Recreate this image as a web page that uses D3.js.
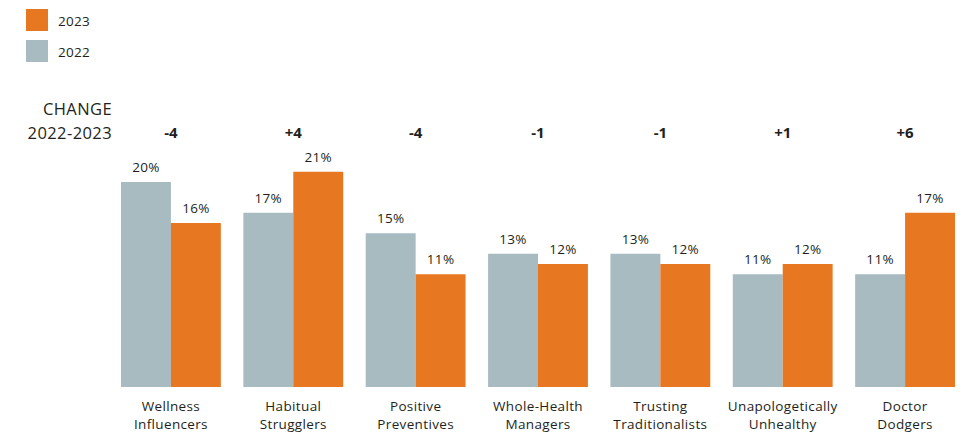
<!DOCTYPE html>
<html>
<head>
<meta charset="utf-8">
<script src="https://cdn.jsdelivr.net/npm/d3@7"></script>
<style>
  html, body { margin: 0; padding: 0; background: #fff; }
  svg { display: block; font-family: "Open Sans", "Lato", sans-serif; }
</style>
</head>
<body>
<svg id="chart" width="973" height="432"></svg>
<script>
// Segment shares by year
const categories = [
  ["Wellness", "Influencers"],
  ["Habitual", "Strugglers"],
  ["Positive", "Preventives"],
  ["Whole-Health", "Managers"],
  ["Trusting", "Traditionalists"],
  ["Unapologetically", "Unhealthy"],
  ["Doctor", "Dodgers"]
];
const values2022 = [20, 17, 15, 13, 13, 11, 11];
const values2023 = [16, 21, 11, 12, 12, 12, 17];
const changeLabels = ["-4", "+4", "-4", "-1", "-1", "+1", "+6"];
const seriesNames = ["2023", "2022"];

const colors = { "2022": "#a7bbc1", "2023": "#e87722" };
const textColor = "#231f20";

const svg = d3.select("#chart");

const x = d3.scaleBand()
  .domain(d3.range(categories.length))
  .range([121, 955])
  .paddingInner(0.184)
  .paddingOuter(0);

const xSeries = d3.scaleBand()
  .domain(["2022", "2023"])
  .range([0, x.bandwidth()]);

const y = d3.scaleLinear()
  .domain([0, 20])
  .range([387, 182]);

const rows = categories.map((c, i) => ({
  i,
  lines: c,
  change: changeLabels[i],
  bars: [
    { key: "2022", value: values2022[i] },
    { key: "2023", value: values2023[i] }
  ]
}));

// Legend
const legend = svg.append("g");
seriesNames.forEach((name, k) => {
  const g = legend.append("g").attr("transform", `translate(26, ${9 + k * 31})`);
  g.append("rect").attr("width", 22).attr("height", 22).attr("fill", colors[name]);
  g.append("text")
    .attr("x", 32).attr("y", 16.5)
    .attr("font-size", 13.5)
    .attr("letter-spacing", 0.3)
    .attr("fill", textColor)
    .text(name);
});

// Change header
svg.append("text")
  .attr("x", 112).attr("y", 115)
  .attr("text-anchor", "end")
  .attr("font-size", 16.5)
  .attr("letter-spacing", 0.4)
  .attr("fill", textColor)
  .text("CHANGE");
svg.append("text")
  .attr("x", 112).attr("y", 139)
  .attr("text-anchor", "end")
  .attr("font-size", 16.5)
  .attr("letter-spacing", 0.4)
  .attr("fill", textColor)
  .text("2022-2023");

const groups = svg.append("g").selectAll("g.group")
  .data(rows)
  .join("g")
  .attr("class", "group")
  .attr("transform", d => `translate(${x(d.i)},0)`);

// Change values
groups.append("text")
  .attr("x", x.bandwidth() / 2)
  .attr("y", 138)
  .attr("text-anchor", "middle")
  .attr("font-size", 15)
  .attr("font-weight", "bold")
  .attr("fill", textColor)
  .text(d => d.change);

// Bars
groups.selectAll("rect")
  .data(d => d.bars)
  .join("rect")
  .attr("x", b => xSeries(b.key))
  .attr("width", xSeries.bandwidth())
  .attr("y", b => y(b.value))
  .attr("height", b => y(0) - y(b.value))
  .attr("fill", b => colors[b.key]);

// Value labels
groups.selectAll("text.val")
  .data(d => d.bars)
  .join("text")
  .attr("class", "val")
  .attr("x", b => xSeries(b.key) + xSeries.bandwidth() / 2)
  .attr("y", b => y(b.value) - 10)
  .attr("text-anchor", "middle")
  .attr("font-size", 13.5)
  .attr("letter-spacing", 0.3)
  .attr("fill", textColor)
  .text(b => b.value + "%");

// Category labels, two lines each
groups.each(function(d) {
  const g = d3.select(this);
  d.lines.forEach((line, k) => {
    g.append("text")
      .attr("x", x.bandwidth() / 2)
      .attr("y", 411 + k * 18)
      .attr("text-anchor", "middle")
      .attr("font-size", 13.5)
      .attr("letter-spacing", 0.35)
      .attr("fill", textColor)
      .text(line);
  });
});
</script>
</body>
</html>
